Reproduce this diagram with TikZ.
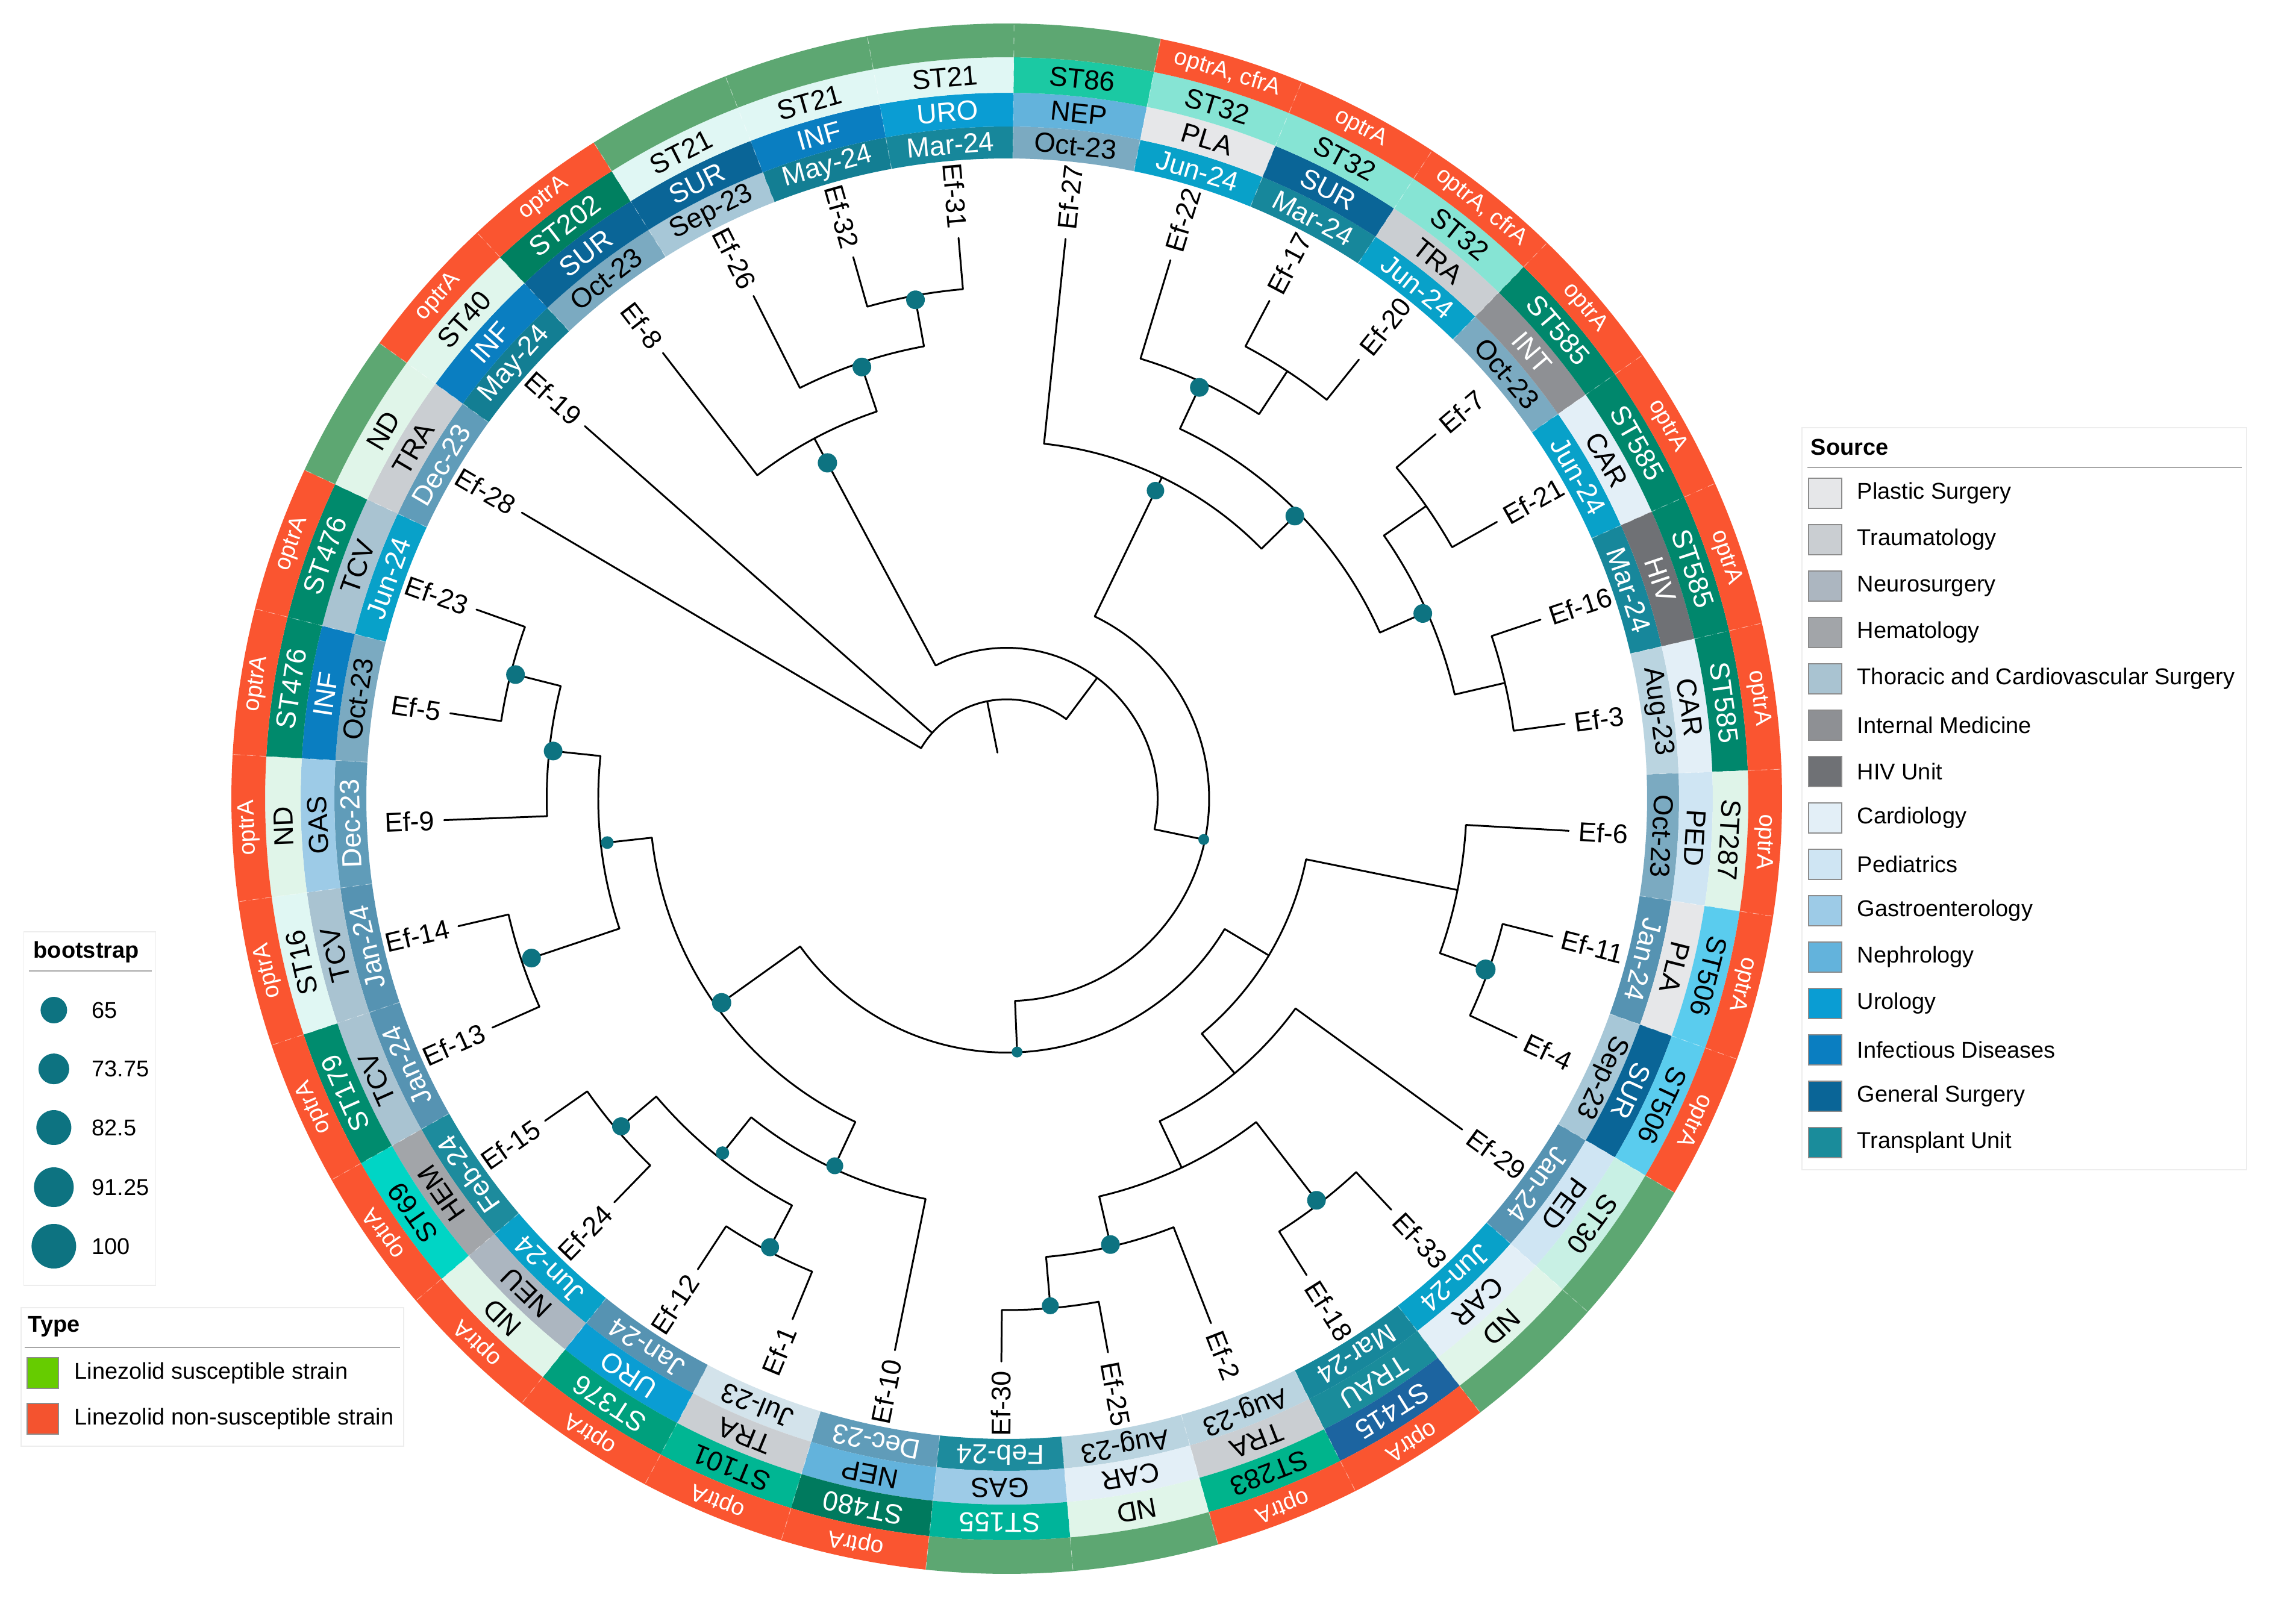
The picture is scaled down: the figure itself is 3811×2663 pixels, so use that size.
\documentclass[tikz,border=0pt]{standalone}
\usepackage{fontspec}
\setmainfont{Liberation Sans}
% date colours
\definecolor{dJul}{HTML}{D3E3EB}
\definecolor{dAug}{HTML}{BAD4E0}
\definecolor{dSep}{HTML}{A7C7D7}
\definecolor{dOct}{HTML}{7BAAC1}
\definecolor{dDec}{HTML}{609CB9}
\definecolor{dJan}{HTML}{5693B2}
\definecolor{dFeb}{HTML}{1D8B9D}
\definecolor{dMar}{HTML}{17879B}
\definecolor{dMay}{HTML}{137E93}
\definecolor{dJun}{HTML}{08A1C9}
% source colours
\definecolor{sPLA}{HTML}{E6E7E9}
\definecolor{sTRA}{HTML}{CACED2}
\definecolor{sNEU}{HTML}{ACB6C0}
\definecolor{sHEM}{HTML}{A2A5A9}
\definecolor{sTCV}{HTML}{A9C3D1}
\definecolor{sINT}{HTML}{8E9094}
\definecolor{sHIV}{HTML}{6F7175}
\definecolor{sCAR}{HTML}{E3EFF7}
\definecolor{sPED}{HTML}{CFE5F3}
\definecolor{sGAS}{HTML}{9DCBE7}
\definecolor{sNEP}{HTML}{63B3DC}
\definecolor{sURO}{HTML}{0A9DD3}
\definecolor{sINF}{HTML}{0A7EC1}
\definecolor{sSUR}{HTML}{0A6597}
\definecolor{sTRAU}{HTML}{1A8C9B}
% ST colours
\definecolor{qST86}{HTML}{1BC9A3}
\definecolor{qST32}{HTML}{86E4D4}
\definecolor{qST585}{HTML}{00876C}
\definecolor{qST287}{HTML}{DFF4E9}
\definecolor{qST506}{HTML}{5ACCEE}
\definecolor{qST30}{HTML}{C8F0E4}
\definecolor{qND}{HTML}{E0F5E9}
\definecolor{qST415}{HTML}{1C64A0}
\definecolor{qST283}{HTML}{00B48C}
\definecolor{qST155}{HTML}{00B49A}
\definecolor{qST480}{HTML}{007A5E}
\definecolor{qST101}{HTML}{00B693}
\definecolor{qST376}{HTML}{00A07D}
\definecolor{qST69}{HTML}{00D5C5}
\definecolor{qST179}{HTML}{008C6E}
\definecolor{qST16}{HTML}{E0F7F3}
\definecolor{qST476}{HTML}{008A6C}
\definecolor{qST40}{HTML}{E0F6EC}
\definecolor{qST202}{HTML}{008060}
\definecolor{qST21}{HTML}{E0F7F4}
% type colours
\definecolor{tG}{HTML}{5DA772}
\definecolor{tR}{HTML}{FA5530}
\definecolor{legG}{HTML}{66CC00}
\definecolor{legR}{HTML}{F4532F}
\definecolor{bsc}{HTML}{0D7381}

\newcommand{\ringcell}[8]{%
  \pgfmathsetmacro{\ccA}{#2+5.4545}%
  \pgfmathsetmacro{\ccB}{#2-5.4545}%
  \pgfmathsetmacro{\ccR}{(#3+#4)/2}%
  \pgfmathsetmacro{\ccT}{#2-90}%
  \fill[#5] (\ccA:#3) arc[start angle=\ccA,end angle=\ccB,radius=#3] -- (\ccB:#4) arc[start angle=\ccB,end angle=\ccA,radius=#4] -- cycle;
  \node[#8,text=#6,rotate=\ccT] (#1) at (#2:\ccR) {#7};}
\newcommand{\ringD}[5]{\ringcell{d#1}{#2}{1063}{1116}{#3}{#4}{#5}{ringlab}}
\newcommand{\ringS}[5]{\ringcell{s#1}{#2}{1116}{1172}{#3}{#4}{#5}{ringlab}}
\newcommand{\ringT}[5]{\ringcell{q#1}{#2}{1172}{1231}{#3}{#4}{#5}{ringlab}}
\newcommand{\ringY}[4]{\ringcell{y#1}{#2}{1231}{1287}{#3}{white}{#4}{typelab}}
\newcommand{\tnode}[5]{\draw[tree] (#2:#3) -- (#2:#1) arc[start angle=#2,end angle=#4,radius=#1] -- (#4:#5);}
\newcommand{\tipR}[3]{\node[tiplab,anchor=west,rotate=#2] (#1) at (#2:950) {#3};}
\newcommand{\tipL}[3]{\pgfmathsetmacro{\ccT}{#2+180}\node[tiplab,anchor=east,rotate=\ccT] (#1) at (#2:950) {#3};}
\newcommand{\bdot}[3]{\fill[bsc] (#1:#2) circle[radius=#3];}

\begin{document}
\begin{tikzpicture}[x=0.01cm,y=0.01cm,
  tree/.style={line width=0.85pt,line cap=round,line join=round,black},
  tiplab/.style={font=\fontsize{12.8}{14}\selectfont,inner sep=0pt},
  ringlab/.style={font=\fontsize{13}{14}\selectfont,inner sep=0pt},
  typelab/.style={font=\fontsize{11}{12}\selectfont,inner sep=0pt},
  sepline/.style={white,opacity=0.45,line width=0.3pt,dashed},
  legbox/.style={fill=white,draw=black!7,line width=0.5pt},
  legline/.style={draw=black!35,line width=0.6pt},
  legtext/.style={font=\fontsize{10.8}{12}\selectfont,inner sep=0pt,anchor=west},
  legtitle/.style={font=\bfseries\fontsize{10.8}{12}\selectfont,inner sep=0pt,anchor=west},
  legkey/.style={draw=black!45,line width=0.5pt}]
\fill[white] (-1671,-1337) rectangle (2140,1326);
\useasboundingbox (-1671,-1337) rectangle (2140,1326);

% ---------------- rings ----------------
% 0 Ef-27
\ringD{0}{84}{dOct}{black}{Oct-23}\ringS{0}{84}{sNEP}{black}{NEP}\ringT{0}{84}{qST86}{black}{ST86}\ringY{0}{84}{tG}{}
% 1 Ef-22
\ringD{1}{73.091}{dJun}{white}{Jun-24}\ringS{1}{73.091}{sPLA}{black}{PLA}\ringT{1}{73.091}{qST32}{black}{ST32}\ringY{1}{73.091}{tR}{optrA, cfrA}
% 2 Ef-17
\ringD{2}{62.182}{dMar}{white}{Mar-24}\ringS{2}{62.182}{sSUR}{white}{SUR}\ringT{2}{62.182}{qST32}{black}{ST32}\ringY{2}{62.182}{tR}{optrA}
% 3 Ef-20
\ringD{3}{51.273}{dJun}{white}{Jun-24}\ringS{3}{51.273}{sTRA}{black}{TRA}\ringT{3}{51.273}{qST32}{black}{ST32}\ringY{3}{51.273}{tR}{optrA, cfrA}
% 4 Ef-7
\ringD{4}{40.364}{dOct}{black}{Oct-23}\ringS{4}{40.364}{sINT}{white}{INT}\ringT{4}{40.364}{qST585}{white}{ST585}\ringY{4}{40.364}{tR}{optrA}
% 5 Ef-21
\ringD{5}{29.455}{dJun}{white}{Jun-24}\ringS{5}{29.455}{sCAR}{black}{CAR}\ringT{5}{29.455}{qST585}{white}{ST585}\ringY{5}{29.455}{tR}{optrA}
% 6 Ef-16
\ringD{6}{18.545}{dMar}{white}{Mar-24}\ringS{6}{18.545}{sHIV}{white}{HIV}\ringT{6}{18.545}{qST585}{white}{ST585}\ringY{6}{18.545}{tR}{optrA}
% 7 Ef-3
\ringD{7}{7.636}{dAug}{black}{Aug-23}\ringS{7}{7.636}{sCAR}{black}{CAR}\ringT{7}{7.636}{qST585}{white}{ST585}\ringY{7}{7.636}{tR}{optrA}
% 8 Ef-6
\ringD{8}{-3.273}{dOct}{black}{Oct-23}\ringS{8}{-3.273}{sPED}{black}{PED}\ringT{8}{-3.273}{qST287}{black}{ST287}\ringY{8}{-3.273}{tR}{optrA}
% 9 Ef-11
\ringD{9}{-14.182}{dJan}{white}{Jan-24}\ringS{9}{-14.182}{sPLA}{black}{PLA}\ringT{9}{-14.182}{qST506}{black}{ST506}\ringY{9}{-14.182}{tR}{optrA}
% 10 Ef-4
\ringD{10}{-25.091}{dSep}{black}{Sep-23}\ringS{10}{-25.091}{sSUR}{white}{SUR}\ringT{10}{-25.091}{qST506}{black}{ST506}\ringY{10}{-25.091}{tR}{optrA}
% 11 Ef-29
\ringD{11}{-36}{dJan}{white}{Jan-24}\ringS{11}{-36}{sPED}{black}{PED}\ringT{11}{-36}{qST30}{black}{ST30}\ringY{11}{-36}{tG}{}
% 12 Ef-33
\ringD{12}{-46.909}{dJun}{white}{Jun-24}\ringS{12}{-46.909}{sCAR}{black}{CAR}\ringT{12}{-46.909}{qND}{black}{ND}\ringY{12}{-46.909}{tG}{}
% 13 Ef-18
\ringD{13}{-57.818}{dMar}{white}{Mar-24}\ringS{13}{-57.818}{sTRAU}{white}{TRAU}\ringT{13}{-57.818}{qST415}{white}{ST415}\ringY{13}{-57.818}{tR}{optrA}
% 14 Ef-2
\ringD{14}{-68.727}{dAug}{black}{Aug-23}\ringS{14}{-68.727}{sTRA}{black}{TRA}\ringT{14}{-68.727}{qST283}{black}{ST283}\ringY{14}{-68.727}{tR}{optrA}
% 15 Ef-25
\ringD{15}{-79.636}{dAug}{black}{Aug-23}\ringS{15}{-79.636}{sCAR}{black}{CAR}\ringT{15}{-79.636}{qND}{black}{ND}\ringY{15}{-79.636}{tG}{}
% 16 Ef-30
\ringD{16}{-90.545}{dFeb}{white}{Feb-24}\ringS{16}{-90.545}{sGAS}{black}{GAS}\ringT{16}{-90.545}{qST155}{white}{ST155}\ringY{16}{-90.545}{tG}{}
% 17 Ef-10
\ringD{17}{-101.455}{dDec}{white}{Dec-23}\ringS{17}{-101.455}{sNEP}{black}{NEP}\ringT{17}{-101.455}{qST480}{white}{ST480}\ringY{17}{-101.455}{tR}{optrA}
% 18 Ef-1
\ringD{18}{-112.364}{dJul}{black}{Jul-23}\ringS{18}{-112.364}{sTRA}{black}{TRA}\ringT{18}{-112.364}{qST101}{black}{ST101}\ringY{18}{-112.364}{tR}{optrA}
% 19 Ef-12
\ringD{19}{-123.273}{dJan}{white}{Jan-24}\ringS{19}{-123.273}{sURO}{white}{URO}\ringT{19}{-123.273}{qST376}{white}{ST376}\ringY{19}{-123.273}{tR}{optrA}
% 20 Ef-24
\ringD{20}{-134.182}{dJun}{white}{Jun-24}\ringS{20}{-134.182}{sNEU}{black}{NEU}\ringT{20}{-134.182}{qND}{black}{ND}\ringY{20}{-134.182}{tR}{optrA}
% 21 Ef-15
\ringD{21}{-145.091}{dFeb}{white}{Feb-24}\ringS{21}{-145.091}{sHEM}{black}{HEM}\ringT{21}{-145.091}{qST69}{black}{ST69}\ringY{21}{-145.091}{tR}{optrA}
% 22 Ef-13
\ringD{22}{-156}{dJan}{white}{Jan-24}\ringS{22}{-156}{sTCV}{black}{TCV}\ringT{22}{-156}{qST179}{white}{ST179}\ringY{22}{-156}{tR}{optrA}
% 23 Ef-14
\ringD{23}{-166.909}{dJan}{white}{Jan-24}\ringS{23}{-166.909}{sTCV}{black}{TCV}\ringT{23}{-166.909}{qST16}{black}{ST16}\ringY{23}{-166.909}{tR}{optrA}
% 24 Ef-9
\ringD{24}{-177.818}{dDec}{white}{Dec-23}\ringS{24}{-177.818}{sGAS}{black}{GAS}\ringT{24}{-177.818}{qND}{black}{ND}\ringY{24}{-177.818}{tR}{optrA}
% 25 Ef-5
\ringD{25}{-188.727}{dOct}{black}{Oct-23}\ringS{25}{-188.727}{sINF}{white}{INF}\ringT{25}{-188.727}{qST476}{white}{ST476}\ringY{25}{-188.727}{tR}{optrA}
% 26 Ef-23
\ringD{26}{-199.636}{dJun}{white}{Jun-24}\ringS{26}{-199.636}{sTCV}{black}{TCV}\ringT{26}{-199.636}{qST476}{white}{ST476}\ringY{26}{-199.636}{tR}{optrA}
% 27 Ef-28
\ringD{27}{149.455}{dDec}{white}{Dec-23}\ringS{27}{149.455}{sTRA}{black}{TRA}\ringT{27}{149.455}{qND}{black}{ND}\ringY{27}{149.455}{tG}{}
% 28 Ef-19
\ringD{28}{138.545}{dMay}{white}{May-24}\ringS{28}{138.545}{sINF}{white}{INF}\ringT{28}{138.545}{qST40}{black}{ST40}\ringY{28}{138.545}{tR}{optrA}
% 29 Ef-8
\ringD{29}{127.636}{dOct}{black}{Oct-23}\ringS{29}{127.636}{sSUR}{white}{SUR}\ringT{29}{127.636}{qST202}{white}{ST202}\ringY{29}{127.636}{tR}{optrA}
% 30 Ef-26
\ringD{30}{116.727}{dSep}{black}{Sep-23}\ringS{30}{116.727}{sSUR}{white}{SUR}\ringT{30}{116.727}{qST21}{black}{ST21}\ringY{30}{116.727}{tG}{}
% 31 Ef-32
\ringD{31}{105.818}{dMay}{white}{May-24}\ringS{31}{105.818}{sINF}{white}{INF}\ringT{31}{105.818}{qST21}{black}{ST21}\ringY{31}{105.818}{tG}{}
% 32 Ef-31
\ringD{32}{94.909}{dMar}{white}{Mar-24}\ringS{32}{94.909}{sURO}{white}{URO}\ringT{32}{94.909}{qST21}{black}{ST21}\ringY{32}{94.909}{tG}{}
% cell separators
\foreach \k in {0,...,32}{\pgfmathsetmacro{\bb}{89.4545-10.90909*\k}\draw[sepline] (\bb:1063) -- (\bb:1287);}

% ---------------- tree ----------------
\draw[tree] (101.32:78) -- (101.32:165);
\tnode{165}{53.19}{250.5}{149.455}{934.5}
\draw[tree] (138.545:165) -- (138.545:934.5);
\tnode{250.5}{-11.71}{336}{118.091}{678}
\tnode{678}{108.545}{763.5}{127.636}{934.5}
\tnode{763.5}{100.364}{849}{116.727}{934.5}
\tnode{849}{94.909}{934.5}{105.818}{934.5}
\tnode{336}{-87.648}{421.5}{64.227}{592.5}
\tnode{592.5}{44.455}{678}{84}{934.5}
\tnode{678}{24}{763.5}{64.909}{763.5}
\tnode{763.5}{56.727}{849}{73.091}{934.5}
\tnode{849}{51.273}{934.5}{62.182}{934.5}
\tnode{763.5}{13.091}{849}{34.909}{849}
\tnode{849}{29.455}{934.5}{40.364}{934.5}
\tnode{849}{7.636}{934.5}{18.545}{934.5}
\tnode{421.5}{-144.409}{592.5}{-30.886}{507}
\tnode{507}{-50.318}{592.5}{-11.455}{763.5}
\tnode{763.5}{-19.636}{849}{-3.273}{934.5}
\tnode{849}{-25.091}{934.5}{-14.182}{934.5}
\tnode{592.5}{-64.636}{678}{-36}{934.5}
\tnode{678}{-76.909}{763.5}{-52.364}{849}
\tnode{849}{-57.818}{934.5}{-46.909}{934.5}
\tnode{763.5}{-85.091}{849}{-68.727}{934.5}
\tnode{849}{-90.545}{934.5}{-79.636}{934.5}
\tnode{592.5}{-173.727}{678}{-115.091}{678}
\tnode{678}{-128.727}{763.5}{-101.455}{934.5}
\tnode{763.5}{-139.636}{849}{-117.818}{849}
\tnode{849}{-123.273}{934.5}{-112.364}{934.5}
\tnode{849}{-145.091}{934.5}{-134.182}{934.5}
\tnode{678}{-186}{763.5}{-161.455}{849}
\tnode{849}{-166.909}{934.5}{-156}{934.5}
\tnode{763.5}{-194.182}{849}{-177.818}{934.5}
\tnode{849}{-199.636}{934.5}{-188.727}{934.5}

% bootstrap points
\bdot{-11.71}{334}{9}
\bdot{-87.648}{421}{9}
\bdot{118.091}{632}{16}
\bdot{108.545}{756}{15.5}
\bdot{100.364}{842}{15.5}
\bdot{64.227}{568}{14.5}
\bdot{44.455}{670}{15.5}
\bdot{64.909}{754}{15.5}
\bdot{24}{756}{15.5}
\bdot{-19.636}{844}{16.5}
\bdot{-52.364}{842}{15.5}
\bdot{-76.909}{760}{15.5}
\bdot{-85.091}{845}{14}
\bdot{-144.409}{582}{16}
\bdot{-115.091}{673}{14}
\bdot{-128.727}{754}{11}
\bdot{-117.818}{842}{15}
\bdot{-139.636}{840}{15}
\bdot{-173.727}{667}{10.5}
\bdot{-186}{757}{15.5}
\bdot{-161.455}{832}{15.5}
\bdot{-194.182}{841}{15.5}

% tip labels
\tipR{t27}{84}{Ef-27}
\tipR{t22}{73.091}{Ef-22}
\tipR{t17}{62.182}{Ef-17}
\tipR{t20}{51.273}{Ef-20}
\tipR{t7}{40.364}{Ef-7}
\tipR{t21}{29.455}{Ef-21}
\tipR{t16}{18.545}{Ef-16}
\tipR{t3}{7.636}{Ef-3}
\tipR{t6}{-3.273}{Ef-6}
\tipR{t11}{-14.182}{Ef-11}
\tipR{t4}{-25.091}{Ef-4}
\tipR{t29}{-36}{Ef-29}
\tipR{t33}{-46.909}{Ef-33}
\tipR{t18}{-57.818}{Ef-18}
\tipR{t2}{-68.727}{Ef-2}
\tipR{t25}{-79.636}{Ef-25}
\tipL{t30}{-90.545}{Ef-30}
\tipL{t10}{-101.455}{Ef-10}
\tipL{t1}{-112.364}{Ef-1}
\tipL{t12}{-123.273}{Ef-12}
\tipL{t24}{-134.182}{Ef-24}
\tipL{t15}{-145.091}{Ef-15}
\tipL{t13}{-156}{Ef-13}
\tipL{t14}{-166.909}{Ef-14}
\tipL{t9}{-177.818}{Ef-9}
\tipL{t5}{-188.727}{Ef-5}
\tipL{t23}{-199.636}{Ef-23}
\tipL{t28}{149.455}{Ef-28}
\tipL{t19}{138.545}{Ef-19}
\tipL{t8}{127.636}{Ef-8}
\tipL{t26}{116.727}{Ef-26}
\tipL{t32}{105.818}{Ef-32}
\tipL{t31}{94.909}{Ef-31}

% ---------------- legends ----------------
% Source
\draw[legbox] (1320,-616) rectangle (2058,616);
\node[legtitle] (srctitle) at (1334,584) {Source};
\draw[legline] (1329,550) -- (2050,550);
\foreach \k/\c/\t in {0/sPLA/Plastic Surgery,1/sTRA/Traumatology,2/sNEU/Neurosurgery,3/sHEM/Hematology,4/sTCV/Thoracic and Cardiovascular Surgery,5/sINT/Internal Medicine,6/sHIV/HIV Unit,7/sCAR/Cardiology,8/sPED/Pediatrics,9/sGAS/Gastroenterology,10/sNEP/Nephrology,11/sURO/Urology,12/sINF/Infectious Diseases,13/sSUR/General Surgery,14/sTRAU/Transplant Unit}{
  \pgfmathsetmacro{\yy}{507-77*\k}
  \filldraw[legkey,fill=\c] (1331,\yy-25) rectangle (1386,\yy+25);
  \node[legtext] (src\k) at (1411,\yy) {\t};
}
% bootstrap
\draw[legbox] (-1631.5,-808) rectangle (-1412.5,-221);
\node[legtitle] (bstitle) at (-1616,-255) {bootstrap};
\draw[legline] (-1623,-286) -- (-1419,-286);
\foreach \k/\yy/\rr/\t in {1/-351/22/65,2/-448.6/25.5/73.75,3/-546/29/82.5,4/-645/33/91.25,5/-743/37/100}{
  \fill[bsc] (-1581.6,\yy) circle[radius=\rr];
  \node[legtext] (bs\k) at (-1519,\yy) {\t};
}
% Type
\draw[legbox] (-1636,-1075) rectangle (-1001,-845);
\node[legtitle] (tytitle) at (-1625,-876) {Type};
\draw[legline] (-1630,-911) -- (-1007,-911);
\filldraw[legkey,fill=legG] (-1626,-979) rectangle (-1574,-928);
\filldraw[legkey,fill=legR] (-1626,-1055) rectangle (-1574,-1004);
\node[legtext] (ty1) at (-1548,-953.5) {Linezolid susceptible strain};
\node[legtext] (ty2) at (-1548,-1029.5) {Linezolid non-susceptible strain};
\end{tikzpicture}
\end{document}
